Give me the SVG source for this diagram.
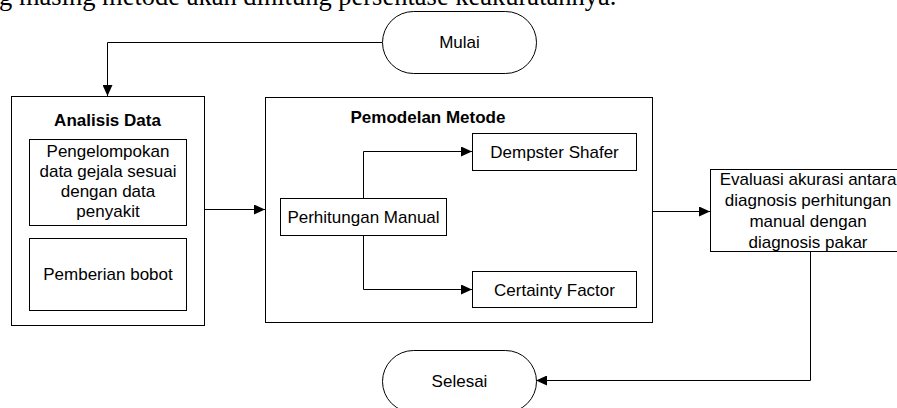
<svg xmlns="http://www.w3.org/2000/svg" width="897" height="408" viewBox="0 0 897 408">
<defs>
<style>
.box{fill:#fff;stroke:#000;stroke-width:1}
.frame{fill:none;stroke:#000;stroke-width:1}
.t{font-family:"Liberation Sans",Arial,sans-serif;font-size:17px;fill:#000;text-anchor:middle}
.b{font-weight:bold}
.c{fill:none;stroke:#000;stroke-width:1}
</style>
<marker id="ah" markerWidth="11" markerHeight="10" refX="11" refY="5" orient="auto" markerUnits="userSpaceOnUse">
<path d="M0,0 L11,5 L0,10 Z" fill="#000"/>
</marker>
</defs>
<rect width="897" height="408" fill="#fff"/>
<text x="-1" y="5" style="font-family:'Liberation Serif','Times New Roman',serif;font-size:26.5px;fill:#000">g masing metode akan dihitung persentase keakuratannya.</text>
<g id="analisis">
<rect class="frame" x="11.5" y="96.5" width="193" height="229"/>
<text class="t b" x="107.5" y="126">Analisis Data</text>
</g>
<g id="pemodelan">
<rect class="frame" x="265.5" y="97.5" width="387" height="225"/>
<text class="t b" x="428" y="123">Pemodelan Metode</text>
</g>
<g id="connectors">
<path class="c" d="M382,42.5 H107.5 V96" marker-end="url(#ah)"/>
<path class="c" d="M204,209.5 H265" marker-end="url(#ah)"/>
<path class="c" d="M363.5,198 V151.5 H472" marker-end="url(#ah)"/>
<path class="c" d="M363.5,235 V289.5 H472" marker-end="url(#ah)"/>
<path class="c" d="M653,211.5 H710" marker-end="url(#ah)"/>
<path class="c" d="M810.5,251 V380.5 H536" marker-end="url(#ah)"/>
</g>
<g id="mulai">
<rect class="box" x="382.5" y="11.5" width="154" height="62" rx="31" ry="31"/>
<text class="t" x="459.5" y="48">Mulai</text>
</g>
<g id="pengelompokan">
<rect class="box" x="29.5" y="139.5" width="157" height="86"/>
<text class="t" x="108" y="157">Pengelompokan</text>
<text class="t" x="108" y="177">data gejala sesuai</text>
<text class="t" x="108" y="197">dengan data</text>
<text class="t" x="108" y="217">penyakit</text>
</g>
<g id="pemberian">
<rect class="box" x="29.5" y="238.5" width="157" height="72"/>
<text class="t" x="108" y="280">Pemberian bobot</text>
</g>
<g id="dempster">
<rect class="box" x="472.5" y="133.5" width="164" height="37"/>
<text class="t" x="554.5" y="158">Dempster Shafer</text>
</g>
<g id="perhitungan">
<rect class="box" x="280.5" y="198.5" width="166" height="37"/>
<text class="t" x="363.5" y="223">Perhitungan Manual</text>
</g>
<g id="certainty">
<rect class="box" x="472.5" y="271.5" width="164" height="36"/>
<text class="t" x="554.5" y="296">Certainty Factor</text>
</g>
<g id="evaluasi">
<rect class="box" x="710.5" y="169.5" width="196" height="82"/>
<text class="t" x="808" y="184.5">Evaluasi akurasi antara</text>
<text class="t" x="808" y="205.5">diagnosis perhitungan</text>
<text class="t" x="808" y="226.5">manual dengan</text>
<text class="t" x="808" y="247.5">diagnosis pakar</text>
</g>
<g id="selesai">
<rect class="box" x="382.5" y="350.5" width="154" height="62" rx="31" ry="31"/>
<text class="t" x="459.5" y="387">Selesai</text>
</g>
</svg>
